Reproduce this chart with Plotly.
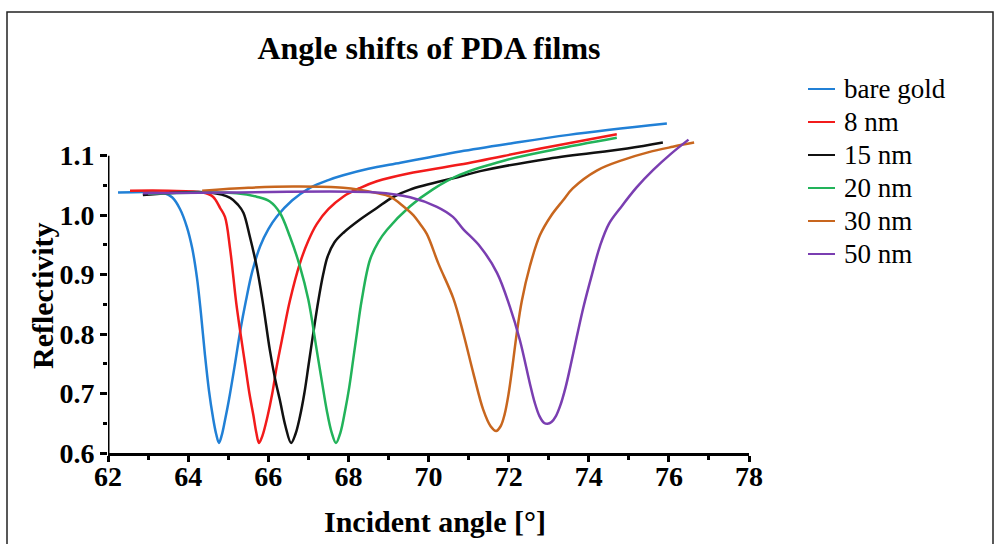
import plotly.graph_objects as go

# Reflectivity curves (incident angle in degrees, reflectivity)
angle_bare = [62.25, 63.0, 63.4, 63.6, 63.8, 63.97, 64.1, 64.22, 64.32, 64.42, 64.52, 64.62, 64.7,
              64.77, 64.84, 64.92, 65.02, 65.17, 65.3, 65.44, 65.6, 65.8, 66.0, 66.22, 66.6,
              67.04, 67.5, 67.87, 68.5, 69.3, 70.0, 70.79, 72.0, 73.5, 75.95]
refl_bare = [1.038, 1.039, 1.037, 1.030, 1.010, 0.980, 0.945, 0.895, 0.835, 0.765, 0.705, 0.660, 0.632,
             0.617, 0.630, 0.655, 0.690, 0.750, 0.805, 0.855, 0.905, 0.948, 0.976, 0.998, 1.025,
             1.046, 1.059, 1.067, 1.078, 1.088, 1.097, 1.107, 1.120, 1.135, 1.154]

angle_8 = [62.55, 63.5, 64.37, 64.62, 64.8, 64.92, 65.05, 65.2, 65.31, 65.42, 65.53, 65.63, 65.7,
           65.77, 65.85, 65.98, 66.1, 66.21, 66.37, 66.54, 66.79, 67.0, 67.21, 67.5, 67.87,
           68.3, 68.71, 69.5, 70.79, 72.8, 74.7]
refl_8 = [1.041, 1.041, 1.038, 1.031, 1.012, 0.997, 0.942, 0.853, 0.800, 0.750, 0.700, 0.663, 0.635,
          0.617, 0.628, 0.661, 0.700, 0.745, 0.800, 0.856, 0.919, 0.957, 0.985, 1.010, 1.031,
          1.046, 1.057, 1.070, 1.085, 1.112, 1.136]

angle_15 = [62.87, 63.5, 64.55, 65.05, 65.25, 65.38, 65.54, 65.71, 65.86, 66.04, 66.17, 66.29, 66.43,
            66.57, 66.68, 66.79, 66.9, 67.0, 67.12, 67.25, 67.37, 67.48, 67.65, 67.87, 68.3,
            68.71, 69.1, 69.54, 70.79, 71.29, 73.0, 74.96, 75.85]
refl_15 = [1.034, 1.037, 1.038, 1.029, 1.017, 1.004, 0.964, 0.914, 0.855, 0.773, 0.725, 0.689, 0.645,
           0.617, 0.632, 0.661, 0.700, 0.745, 0.800, 0.856, 0.900, 0.930, 0.954, 0.970, 0.993,
           1.012, 1.030, 1.043, 1.065, 1.074, 1.095, 1.112, 1.122]

angle_20 = [63.0, 64.5, 65.21, 65.71, 66.04, 66.29, 66.54, 66.79, 67.0, 67.21, 67.34, 67.46, 67.58,
            67.69, 67.8, 67.92, 68.02, 68.12, 68.22, 68.33, 68.54, 68.75, 68.96, 69.54, 70.1,
            70.79, 71.9, 73.12, 74.7]
refl_20 = [1.036, 1.038, 1.037, 1.031, 1.023, 1.004, 0.964, 0.914, 0.858, 0.773, 0.720, 0.672, 0.635,
           0.617, 0.634, 0.672, 0.710, 0.757, 0.805, 0.856, 0.925, 0.955, 0.975, 1.015, 1.043,
           1.068, 1.092, 1.110, 1.130]

angle_30 = [64.35, 65.5, 66.62, 67.87, 68.71, 69.04, 69.37, 69.62, 69.79, 69.96, 70.25, 70.62, 70.87,
            71.12, 71.37, 71.55, 71.69, 71.8, 71.9, 72.0, 72.1, 72.2, 72.33, 72.53, 72.78,
            73.06, 73.36, 73.6, 74.2, 74.86, 75.5, 76.1, 76.63]
refl_30 = [1.041, 1.046, 1.048, 1.046, 1.037, 1.031, 1.015, 1.000, 0.985, 0.968, 0.918, 0.860, 0.801,
           0.734, 0.672, 0.645, 0.637, 0.645, 0.665, 0.700, 0.748, 0.800, 0.856, 0.914, 0.966,
           0.999, 1.025, 1.045, 1.075, 1.093, 1.106, 1.115, 1.122]

angle_50 = [62.87, 65.0, 68.7, 69.54, 70.21, 70.61, 70.86, 71.29, 71.71, 72.03, 72.28, 72.53, 72.65,
            72.77, 72.88, 72.97, 73.07, 73.18, 73.29, 73.42, 73.54, 73.7, 73.87, 74.08, 74.28,
            74.5, 74.8, 75.2, 75.61, 76.05, 76.49]
refl_50 = [1.037, 1.038, 1.038, 1.030, 1.014, 0.997, 0.977, 0.947, 0.903, 0.846, 0.790, 0.717, 0.685,
           0.662, 0.651, 0.649, 0.652, 0.662, 0.680, 0.710, 0.745, 0.795, 0.846, 0.900, 0.948,
           0.985, 1.013, 1.047, 1.076, 1.103, 1.127]

series_names = ["bare gold", "8 nm", "15 nm", "20 nm", "30 nm", "50 nm"]
series_x = [angle_bare, angle_8, angle_15, angle_20, angle_30, angle_50]
series_y = [refl_bare, refl_8, refl_15, refl_20, refl_30, refl_50]
series_colors = ["#2180d6", "#f21b1b", "#111111", "#22b35a", "#c8661e", "#7a3eb1"]

x_ticks = [62, 64, 66, 68, 70, 72, 74, 76, 78]
x_minor = [63, 65, 67, 69, 71, 73, 75, 77]
y_ticks = [0.6, 0.7, 0.8, 0.9, 1.0, 1.1]
y_tick_text = ["0.6", "0.7", "0.8", "0.9", "1.0", "1.1"]
y_minor = [0.65, 0.75, 0.85, 0.95, 1.05]

serif = "Liberation Serif, Times New Roman, serif"

fig = go.Figure()
for name, xs, ys, col in zip(series_names, series_x, series_y, series_colors):
    fig.add_trace(go.Scatter(
        x=xs, y=ys, name=name, mode="lines", showlegend=False,
        line=dict(color=col, width=2.5, shape="spline", smoothing=1.0),
    ))

L, R, T, B = 108, 246, 120, 91
W, H = 995, 544
pw, ph = W - L - R, H - T - B


def px_x(p):
    return (p - L) / pw


def px_y(p):
    return (H - B - p) / ph


shapes = [
    # y axis spine stops at the last labelled tick
    dict(type="line", xref="x", yref="y", x0=62, x1=62, y0=0.6, y1=1.1,
         line=dict(color="black", width=3)),
    # outer frame
    dict(type="rect", xref="paper", yref="paper",
         x0=px_x(7), x1=px_x(993), y0=px_y(560), y1=px_y(12),
         line=dict(color="#222222", width=1.5), layer="below"),
]

annotations = [
    dict(text="Incident angle [°]", xref="paper", yref="paper", x=px_x(435), y=px_y(521),
         showarrow=False, xanchor="center", yanchor="middle",
         font=dict(family=serif, size=30, color="black", weight="bold")),
    dict(text="Reflectivity", xref="paper", yref="paper", x=px_x(42), y=px_y(296),
         showarrow=False, xanchor="center", yanchor="middle", textangle=-90,
         font=dict(family=serif, size=30, color="black", weight="bold")),
]

# legend: short coloured line plus label for each series
for i, (name, col) in enumerate(zip(series_names, series_colors)):
    row = 89 + 33 * i
    shapes.append(dict(type="line", xref="paper", yref="paper",
                       x0=px_x(808), x1=px_x(835), y0=px_y(row), y1=px_y(row),
                       line=dict(color=col, width=2)))
    annotations.append(dict(text=name, xref="paper", yref="paper",
                            x=px_x(842), y=px_y(row), xanchor="left", yanchor="middle",
                            showarrow=False,
                            font=dict(family=serif, size=27, color="black")))

fig.update_layout(
    width=W, height=H,
    margin=dict(l=L, r=R, t=T, b=B),
    paper_bgcolor="white", plot_bgcolor="white",
    title=dict(text="Angle shifts of PDA films", x=px_x(429), xref="paper",
               xanchor="center", y=1 - 48 / H, yref="container", yanchor="middle",
               font=dict(family=serif, size=32, color="black", weight="bold")),
    xaxis=dict(range=[62, 78], tickvals=x_ticks, showgrid=False, zeroline=False,
               showline=True, linecolor="black", linewidth=3,
               ticks="outside", ticklen=6, tickwidth=2.5, tickcolor="black",
               ticklabelstandoff=-10,
               minor=dict(tickvals=x_minor, ticks="outside",
                          ticklen=4, tickwidth=2.5, tickcolor="black"),
               tickfont=dict(family=serif, size=28, color="black", weight="bold")),
    yaxis=dict(range=[0.6, 1.16], tickvals=y_ticks, ticktext=y_tick_text,
               showgrid=False, zeroline=False, showline=False,
               ticks="outside", ticklen=7, tickwidth=2.5, tickcolor="black",
               minor=dict(tickvals=y_minor, ticks="outside", ticklen=4,
                          tickwidth=2.5, tickcolor="black"),
               tickfont=dict(family=serif, size=28, color="black", weight="bold")),
    annotations=annotations,
    shapes=shapes,
)

fig.write_html("out.html")
